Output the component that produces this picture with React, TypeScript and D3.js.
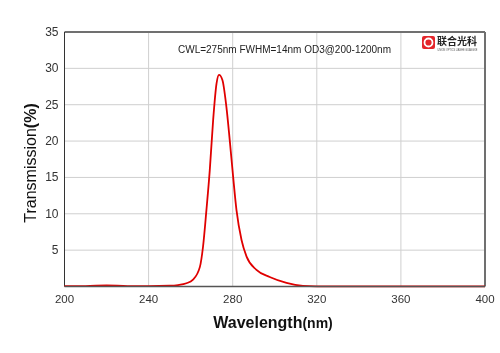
import React, {useRef, useEffect} from "react";
import * as d3 from "d3";

// wavelength (nm) and transmission (%)
const wavelengths = [200, 210, 220, 230, 240, 250, 254, 258, 261, 264.4, 265.9, 267.5, 269.1, 270.7, 272.3, 273.5, 275.1, 277, 278.6, 280.2, 281.8, 284.2, 286.6, 291.3, 297.6, 305.6, 313.4, 320, 340, 360, 380, 400];
const transmission = [0.05, 0.05, 0.15, 0.05, 0.05, 0.1, 0.2, 0.45, 0.9, 2.7, 5.5, 10.5, 16, 22.9, 27.9, 29.1, 28.4, 24.7, 20.1, 15.1, 10.5, 6.4, 4.1, 2.3, 1.3, 0.5, 0.1, 0.03, 0.02, 0.02, 0.02, 0.02];
const xTicks = [200, 240, 280, 320, 360, 400];
const yTicks = [5, 10, 15, 20, 25, 30, 35];
const note = "CWL=275nm FWHM=14nm OD3@200-1200nm";

const App = () => {
    const ref = useRef<SVGSVGElement>(null);

    useEffect(() => {
        const svgWidth = 500;
        const svgHeight = 353;
        const margin = {top: 32, right: 15, bottom: 66.5, left: 64.5};
        const font = "'Liberation Sans', Arial, sans-serif";

        const svg = d3.select(ref.current)
            .attr("width", svgWidth)
            .attr("height", svgHeight);
        svg.selectAll("*").remove();

        const x = d3.scaleLinear().domain([200, 400]).range([margin.left, svgWidth - margin.right]);
        const y = d3.scaleLinear().domain([0, 35]).range([svgHeight - margin.bottom, margin.top]);

        // grid lines
        svg.append("g")
            .selectAll("line")
            .data(yTicks.slice(0, -1))
            .enter().append("line")
            .attr("x1", x(200)).attr("x2", x(400))
            .attr("y1", d => y(d)).attr("y2", d => y(d))
            .attr("stroke", "#cfcfcf").attr("stroke-width", 1);
        svg.append("g")
            .selectAll("line")
            .data(xTicks.slice(1, -1))
            .enter().append("line")
            .attr("x1", d => x(d)).attr("x2", d => x(d))
            .attr("y1", y(35)).attr("y2", y(0))
            .attr("stroke", "#cfcfcf").attr("stroke-width", 1);

        // frame
        svg.append("line").attr("x1", x(200)).attr("x2", x(400)).attr("y1", y(35)).attr("y2", y(35))
            .attr("stroke", "#707070").attr("stroke-width", 2);
        svg.append("line").attr("x1", x(400)).attr("x2", x(400)).attr("y1", y(35)).attr("y2", y(0))
            .attr("stroke", "#707070").attr("stroke-width", 2);
        svg.append("line").attr("x1", x(200)).attr("x2", x(200)).attr("y1", y(35)).attr("y2", y(0))
            .attr("stroke", "#333").attr("stroke-width", 1);

        // tick labels
        svg.append("g").selectAll("text")
            .data(xTicks).enter().append("text")
            .attr("x", d => x(d)).attr("y", y(0) + 16)
            .attr("text-anchor", "middle")
            .style("font-family", font).style("font-size", "11.5px").style("fill", "#333")
            .text(d => d);
        svg.append("g").selectAll("text")
            .data(yTicks).enter().append("text")
            .attr("x", margin.left - 6).attr("y", d => y(d) + 4)
            .attr("text-anchor", "end")
            .style("font-family", font).style("font-size", "12px").style("fill", "#333")
            .text(d => d);

        // the curve
        const data = wavelengths.map((w, i) => ({w, t: transmission[i]}));
        const line = d3.line<{w: number, t: number}>()
            .x(d => x(d.w))
            .y(d => y(d.t))
            .curve(d3.curveMonotoneX);
        svg.append("path")
            .datum(data)
            .attr("fill", "none")
            .attr("stroke", "#e00000")
            .attr("stroke-width", 1.8)
            .attr("d", line);

        // bottom axis line drawn over the curve
        svg.append("line").attr("x1", x(200)).attr("x2", x(400)).attr("y1", y(0)).attr("y2", y(0))
            .attr("stroke", "#555").attr("stroke-width", 1.5);

        // axis titles
        const xt = svg.append("text")
            .attr("x", 273).attr("y", 328)
            .attr("text-anchor", "middle")
            .style("font-family", font).style("font-weight", "bold").style("fill", "#111");
        xt.append("tspan").style("font-size", "16px").text("Wavelength");
        xt.append("tspan").style("font-size", "14px").text("(nm)");

        const yt = svg.append("text")
            .attr("transform", "translate(36,163) rotate(-90)")
            .attr("text-anchor", "middle")
            .style("font-family", font).style("fill", "#111");
        yt.append("tspan").style("font-size", "16px").text("Transmission");
        yt.append("tspan").style("font-size", "16px").style("font-weight", "bold").text("(%)");

        // annotation
        svg.append("text")
            .attr("x", 178).attr("y", 53)
            .style("font-family", font).style("font-size", "10px").style("fill", "#222")
            .text(note);

        // logo
        const logo = svg.append("g").attr("transform", "translate(422,36)");
        logo.append("rect").attr("width", 13).attr("height", 13).attr("rx", 2).attr("fill", "#e4262b");
        logo.append("circle").attr("cx", 6.5).attr("cy", 6.5).attr("r", 4).attr("fill", "none")
            .attr("stroke", "#fff").attr("stroke-width", 1.8);
        logo.append("text").attr("x", 15).attr("y", 8.5)
            .style("font-family", "'Noto Sans CJK SC', sans-serif").style("font-size", "10px")
            .style("font-weight", "bold").style("fill", "#222")
            .text("联合光科");
        logo.append("text").attr("x", 15.5).attr("y", 14.5)
            .attr("textLength", 40).attr("lengthAdjust", "spacingAndGlyphs")
            .style("font-family", font).style("font-size", "3px").style("fill", "#555")
            .text("UNION OPTICS LIANHE GUANGKE");
    }, []);

    return (
        <div style={{position: "relative"}}>
            <svg ref={ref} style={{position: "fixed", left: 0, top: 0}}></svg>
        </div>
    );
};

export default App;
